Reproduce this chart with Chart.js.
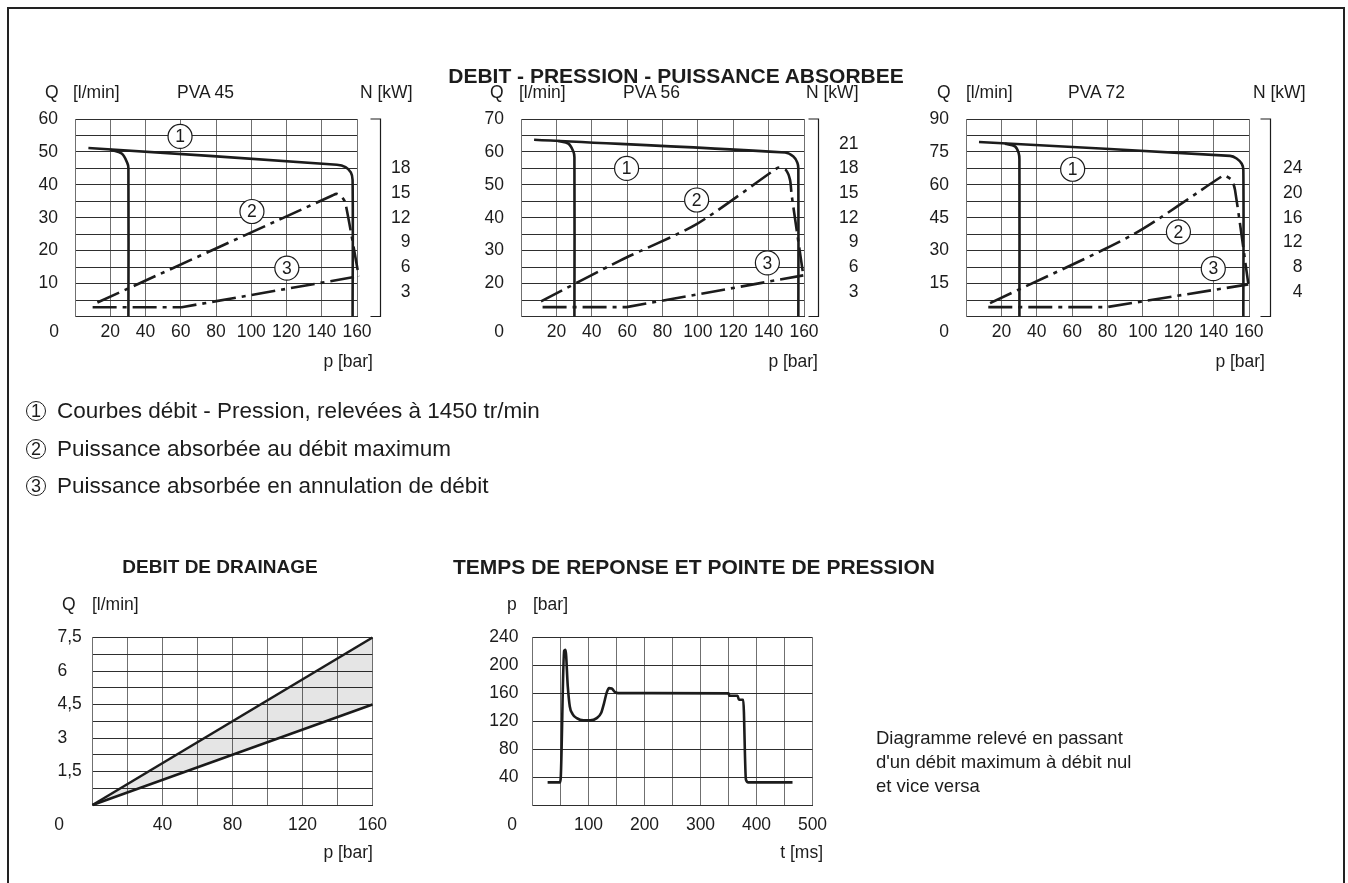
<!DOCTYPE html>
<html lang="fr">
<head>
<meta charset="utf-8">
<title>PVA - débit, pression, puissance absorbée</title>
<script src="https://cdn.jsdelivr.net/npm/chart.js@4.4.1/dist/chart.umd.min.js"></script>
<style>
  html, body { margin: 0; padding: 0; background: #fff; }
  body { position: relative; width: 1348px; height: 883px; overflow: hidden;
         font-family: "Liberation Sans", Arial, sans-serif; color: #1c1c1c; }
  #frame { position: absolute; left: 7px; top: 7px; width: 1338px; height: 920px;
           border: 2px solid #222; box-sizing: border-box; }
  canvas { position: absolute; left: 0; top: 0; }
  .txt { position: absolute; white-space: nowrap; line-height: 1; }
  .num { position: absolute; display: flex; align-items: center; justify-content: center;
         width: 20px; height: 20px; border: 1.3px solid #1c1c1c; border-radius: 50%;
         box-sizing: border-box; font-size: 18px; line-height: 1; }
</style>
</head>
<body>
<div id="frame"></div>
<canvas id="pva45" width="1348" height="883"></canvas>
<canvas id="pva56" width="1348" height="883"></canvas>
<canvas id="pva72" width="1348" height="883"></canvas>
<canvas id="drain" width="1348" height="883"></canvas>
<canvas id="resp" width="1348" height="883"></canvas>
<script>
// ---- data ----
// PVA 45 : flow curve (1), 30 bar branch, absorbed power (2) and (3)
const pva45FlowP = [7.6, 148.6, 153.5, 156.5, 157.5, 157.5];
const pva45FlowQ = [51.2, 46.1, 45.4, 43.8, 41.5, 0];
const pva45Flow30P = [19.9, 26.5, 29.7, 30.3, 30.3];
const pva45Flow30Q = [50.7, 49.5, 46.6, 45.1, 0];
const pva45PowMaxP = [12.7, 146, 148.5, 151.5, 153.4, 161];
const pva45PowMaxN = [1.7, 14.7, 14.9, 14.5, 13.8, 4.9];
const pva45PowZeroP = [10, 60.6, 161];
const pva45PowZeroN = [1.13, 1.13, 4.9];
const pva45PowerTicks = [3, 6, 9, 12, 15, 18];

// PVA 56
const pva56FlowP = [7.4, 149.3, 154, 156.2, 156.8, 156.8];
const pva56FlowQ = [63.7, 59.8, 58.6, 56.8, 55.0, 10];
const pva56Flow30P = [21.1, 26.8, 29.6, 30.2, 30.2];
const pva56Flow30Q = [63.3, 62.5, 60.1, 58.4, 10];
const pva56PowMaxP = [11.3, 56, 99.3, 144.6, 146.4, 149.8, 152.1, 153, 159.6];
const pva56PowMaxN = [1.83, 6.8, 11.23, 18.0, 18.1, 17.8, 16.6, 14.8, 5.0];
const pva56PowZeroP = [12.2, 59.7, 159.6];
const pva56PowZeroN = [1.14, 1.14, 5.0];
const pva56PowerTicks = [3, 6, 9, 12, 15, 18, 21];

// PVA 72
const pva72FlowP = [7.35, 149.3, 153, 155.9, 156.8, 156.8];
const pva72FlowQ = [79.5, 73.2, 72.0, 69.6, 66.8, 0];
const pva72Flow30P = [22, 27.7, 29.8, 30.2, 30.2];
const pva72Flow30Q = [78.7, 77.5, 74.4, 71.4, 0];
const pva72PowMaxP = [13.6, 94.6, 144.6, 146.4, 150.2, 152.1, 159.6];
const pva72PowMaxN = [2.17, 13.3, 22.7, 22.8, 22.1, 20.5, 5.3];
const pva72PowZeroP = [12.6, 79.5, 159.6];
const pva72PowZeroN = [1.52, 1.52, 5.2];
const pva72PowerTicks = [4, 8, 12, 16, 20, 24];

// circled curve numbers, in (p, Q) units
const pva45Marks = [['1', 59.6, 54.7], ['2', 100.4, 31.9], ['3', 120.2, 14.7]];
const pva56Marks = [['1', 59.7, 55.0], ['2', 99.3, 45.4], ['3', 139.3, 26.3]];
const pva72Marks = [['1', 60.3, 67.1], ['2', 120.1, 38.6], ['3', 139.8, 21.8]];

// drainage flow
const drainP = [0, 160];
const drainMax = [0, 7.5];
const drainMin = [0, 4.5];

// response time / pressure peak
const respT = [27, 49, 50.5, 56.5, 58.9, 63, 66.6, 71.3, 79, 91, 103, 114.7, 122.5, 127.8, 132.6, 136.7, 141.5, 147.4, 153.4,
               350.2, 351.4, 366.2, 368.6, 376.3, 381.1, 385.3, 464.3];
const respP = [32.4, 32.4, 40, 221, 222.3, 170, 141.2, 130.7, 124.5, 121.2, 121.2, 124.5, 131.7, 146, 161.3, 167.5, 167, 161.7, 160.3,
               160, 156.5, 156.5, 150.8, 150.8, 36.3, 32.4, 32.4];

// ---- styling ----
const FONT = '"Liberation Sans", Arial, sans-serif';
const INK = '#1c1c1c';
const GRID_H = '#2e2e2e';
const GRID_V = '#707070';
const DASH = [24, 6, 4, 6];
const TICK_FONT = { family: FONT, size: 17.5 };

function pts(xs, ys) { return xs.map((x, i) => ({ x: x, y: ys[i] })); }
function isMult(v, m) { return Math.abs(v / m - Math.round(v / m)) < 1e-6; }
function fr(v) { return String(Math.round(v * 100) / 100).replace('.', ','); }

// circled numbers on the curves
const circledLabels = {
  id: 'circledLabels',
  afterDatasetsDraw(chart, args, opts) {
    if (!opts.items) return;
    const ctx = chart.ctx, xs = chart.scales.x, ys = chart.scales.y;
    ctx.save();
    opts.items.forEach(m => {
      const cx = xs.getPixelForValue(m[1]), cy = ys.getPixelForValue(m[2]);
      ctx.beginPath();
      ctx.arc(cx, cy, 12, 0, Math.PI * 2);
      ctx.fillStyle = '#fff';
      ctx.fill();
      ctx.lineWidth = 1.2;
      ctx.strokeStyle = INK;
      ctx.stroke();
      ctx.fillStyle = INK;
      ctx.font = '17.5px ' + FONT;
      ctx.textAlign = 'center';
      ctx.textBaseline = 'middle';
      ctx.fillText(m[0], cx, cy + 1);
    });
    ctx.restore();
  }
};

// N [kW] bracket axis drawn right of the plot
const powerAxis = {
  id: 'powerAxis',
  afterDraw(chart, args, opts) {
    if (!opts.ticks) return;
    const ctx = chart.ctx, a = chart.chartArea, s = chart.scales.yN;
    const lx = Math.round(a.right + opts.gap) + 0.5;
    ctx.save();
    ctx.strokeStyle = INK;
    ctx.lineWidth = 1.2;
    ctx.beginPath();
    ctx.moveTo(lx - 10, a.top);
    ctx.lineTo(lx, a.top);
    ctx.lineTo(lx, a.bottom);
    ctx.lineTo(lx - 10, a.bottom);
    ctx.stroke();
    ctx.fillStyle = INK;
    ctx.font = '17.5px ' + FONT;
    ctx.textAlign = 'right';
    ctx.textBaseline = 'middle';
    opts.ticks.forEach(v => ctx.fillText(String(v), lx + opts.labelOffset, s.getPixelForValue(v)));
    ctx.restore();
  }
};

Chart.register(circledLabels, powerAxis);

function curve(data, axis, tension, dashed) {
  return {
    data: data, yAxisID: axis, tension: tension,
    borderColor: INK, borderWidth: 2.6, borderDash: dashed ? DASH : [],
    pointRadius: 0, fill: false, clip: false
  };
}

function xAxis(max, step, labelEvery, pad) {
  return {
    type: 'linear', min: 0, max: max,
    ticks: { stepSize: step, autoSkip: false, maxRotation: 0, padding: pad, color: INK, font: TICK_FONT,
             callback: v => (v !== 0 && isMult(v, labelEvery)) ? String(v) : '' },
    grid: { color: GRID_V, drawTicks: false, lineWidth: 1 },
    border: { color: GRID_H },
    afterFit: s => { s.height = 50; }
  };
}

function yAxis(min, max, step, labelEvery, width, align, pad) {
  return {
    type: 'linear', min: min, max: max,
    ticks: { stepSize: step, autoSkip: false, padding: pad, crossAlign: align, color: INK, font: TICK_FONT,
             callback: v => (v > min && isMult(v, labelEvery)) ? fr(v) : '' },
    grid: { color: GRID_H, drawTicks: false, lineWidth: 1 },
    border: { color: GRID_V },
    afterFit: s => { s.width = width; }
  };
}

function baseOptions(box, yw, scales, plugins) {
  return {
    responsive: false, animation: false, devicePixelRatio: 1, events: [],
    layout: { padding: { left: box.l - yw, top: box.t, right: 1348 - box.r, bottom: 883 - box.b - 50 } },
    scales: scales,
    plugins: Object.assign({ legend: { display: false }, tooltip: { enabled: false } }, plugins)
  };
}

function pumpChart(id, box, c) {
  new Chart(document.getElementById(id), {
    type: 'line',
    data: { datasets: [
      curve(pts(c.flowP, c.flowQ), 'y', 0.35, false),
      curve(pts(c.flow30P, c.flow30Q), 'y', 0.35, false),
      curve(pts(c.powMaxP, c.powMaxN), 'yN', 0.25, true),
      curve(pts(c.powZeroP, c.powZeroN), 'yN', 0, true)
    ] },
    options: baseOptions(box, 60, {
      x: xAxis(160, 20, 20, 5),
      y: yAxis(c.qMin, c.qMax, c.qStep, c.qStep * 2, 60, 'near', 17),
      yN: { type: 'linear', display: false, min: 0, max: c.nMax }
    }, {
      circledLabels: { items: c.marks },
      powerAxis: { ticks: c.nTicks, gap: c.gap, labelOffset: c.labelOffset }
    })
  });
}

pumpChart('pva45', { l: 75, t: 119, r: 357, b: 316.5 }, {
  flowP: pva45FlowP, flowQ: pva45FlowQ, flow30P: pva45Flow30P, flow30Q: pva45Flow30Q,
  powMaxP: pva45PowMaxP, powMaxN: pva45PowMaxN, powZeroP: pva45PowZeroP, powZeroN: pva45PowZeroN,
  qMin: 0, qMax: 60, qStep: 5, nMax: 24, nTicks: pva45PowerTicks, marks: pva45Marks, gap: 23, labelOffset: 30
});
pumpChart('pva56', { l: 521, t: 119, r: 804, b: 316.5 }, {
  flowP: pva56FlowP, flowQ: pva56FlowQ, flow30P: pva56Flow30P, flow30Q: pva56Flow30Q,
  powMaxP: pva56PowMaxP, powMaxN: pva56PowMaxN, powZeroP: pva56PowZeroP, powZeroN: pva56PowZeroN,
  qMin: 10, qMax: 70, qStep: 5, nMax: 24, nTicks: pva56PowerTicks, marks: pva56Marks, gap: 14, labelOffset: 40
});
pumpChart('pva72', { l: 966, t: 119, r: 1249, b: 316.5 }, {
  flowP: pva72FlowP, flowQ: pva72FlowQ, flow30P: pva72Flow30P, flow30Q: pva72Flow30Q,
  powMaxP: pva72PowMaxP, powMaxN: pva72PowMaxN, powZeroP: pva72PowZeroP, powZeroN: pva72PowZeroN,
  qMin: 0, qMax: 90, qStep: 7.5, nMax: 32, nTicks: pva72PowerTicks, marks: pva72Marks, gap: 21, labelOffset: 32
});

// drainage flow band
new Chart(document.getElementById('drain'), {
  type: 'line',
  data: { datasets: [
    Object.assign(curve(pts(drainP, drainMax), 'y', 0, false), { fill: '+1', backgroundColor: 'rgba(0,0,0,0.1)' }),
    curve(pts(drainP, drainMin), 'y', 0, false)
  ] },
  options: baseOptions({ l: 92.5, t: 637.5, r: 372.5, b: 805 }, 35, {
    x: xAxis(160, 20, 40, 10),
    y: yAxis(0, 7.5, 0.75, 1.5, 35, 'far', 10)
  }, {})
});

// response time
new Chart(document.getElementById('resp'), {
  type: 'line',
  data: { datasets: [
    Object.assign(curve(pts(respT, respP), 'y', 0.4, false), { cubicInterpolationMode: 'monotone' })
  ] },
  options: baseOptions({ l: 532.5, t: 637.5, r: 812.5, b: 805 }, 60, {
    x: xAxis(500, 50, 100, 10),
    y: yAxis(0, 240, 40, 40, 60, 'near', 14)
  }, {})
});

// ---- free text ----
function addText(str, x, y, align, size, bold) {
  const el = document.createElement('div');
  el.className = 'txt';
  el.textContent = str;
  el.style.left = x + 'px';
  el.style.top = y + 'px';
  el.style.fontSize = (size || 17.5) + 'px';
  if (bold) el.style.fontWeight = 'bold';
  const tx = align === 'c' ? '-50%' : align === 'r' ? '-100%' : '0';
  el.style.transform = 'translate(' + tx + ', -50%)';
  document.body.appendChild(el);
}
function addCircle(n, cx, cy) {
  const el = document.createElement('div');
  el.className = 'num';
  el.textContent = n;
  el.style.left = (cx - 10) + 'px';
  el.style.top = (cy - 10) + 'px';
  document.body.appendChild(el);
}

addText('DEBIT - PRESSION - PUISSANCE ABSORBEE', 676, 75, 'c', 21, true);

[[45, 'PVA 45', 45, 73, 177, 360, 54, 373],
 [56, 'PVA 56', 490, 519, 623, 806, 499, 818],
 [72, 'PVA 72', 937, 966, 1068, 1253, 944, 1265]].forEach(h => {
  addText('Q', h[2], 92.5, 'l');
  addText('[l/min]', h[3], 92.5, 'l');
  addText(h[1], h[4], 92.5, 'l');
  addText('N [kW]', h[5], 92.5, 'l');
  addText('0', h[6], 332, 'c');
  addText('p [bar]', h[7], 362, 'r');
});

addCircle('1', 36, 411);
addCircle('2', 36, 449);
addCircle('3', 36, 486);
addText('Courbes débit - Pression, relevées à 1450 tr/min', 57, 411, 'l', 22.5);
addText('Puissance absorbée au débit maximum', 57, 449, 'l', 22.5);
addText('Puissance absorbée en annulation de débit', 57, 486, 'l', 22.5);

addText('DEBIT DE DRAINAGE', 220, 566, 'c', 19, true);
addText('TEMPS DE REPONSE ET POINTE DE PRESSION', 453, 566, 'l', 21, true);

addText('Q', 62, 605, 'l');
addText('[l/min]', 92, 605, 'l');
addText('0', 59, 825, 'c');
addText('p [bar]', 373, 853, 'r');

addText('p', 507, 605, 'l');
addText('[bar]', 533, 605, 'l');
addText('0', 512, 825, 'c');
addText('t [ms]', 823, 853, 'r');

addText('Diagramme relevé en passant', 876, 738, 'l', 18.5);
addText("d'un débit maximum à débit nul", 876, 762, 'l', 18.5);
addText('et vice versa', 876, 786, 'l', 18.5);
</script>
</body>
</html>
